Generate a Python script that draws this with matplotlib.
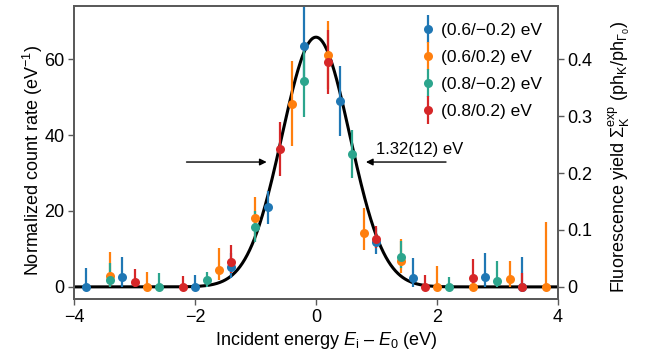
import numpy as np
import matplotlib
matplotlib.use("Agg")
import matplotlib.pyplot as plt
from matplotlib.legend_handler import HandlerErrorbar

plt.rcParams['font.family'] = ['Liberation Sans', 'DejaVu Sans']
plt.rcParams['mathtext.fontset'] = 'custom'
plt.rcParams['mathtext.rm'] = 'Liberation Sans'
plt.rcParams['mathtext.it'] = 'Liberation Sans:italic'
plt.rcParams['mathtext.bf'] = 'Liberation Sans:bold'
plt.rcParams['font.size'] = 13

# ---- data ----
labels = ["(0.6/\u22120.2) eV", "(0.6/0.2) eV", "(0.8/\u22120.2) eV", "(0.8/0.2) eV"]
colors = ["#1f77b4", "#ff7f0e", "#2ca58d", "#d62728"]

blue_x = [-3.8, -3.2, -2.0, -1.4, -0.8, -0.2, 0.4, 1.0, 1.6, 2.8, 3.4]
blue_y = [0, 2.5, 0, 5.3, 21.0, 63.5, 48.9, 11.9, 2.3, 2.7, 0]
blue_up = [4.9, 5.5, 3.2, 3.5, 4.3, 11.0, 9.3, 3.5, 5.2, 6.2, 8.0]
blue_lo = [0, 2.5, 0, 3.0, 4.5, 10.0, 9.2, 3.2, 2.3, 2.7, 0]

orange_x = [-3.4, -2.8, -1.6, -1.0, -0.4, 0.2, 0.8, 1.4, 2.0, 2.6, 3.2, 3.8]
orange_y = [2.9, 0, 4.4, 18.1, 48.2, 61.2, 14.3, 6.8, 0, 0, 2.0, 0]
orange_up = [6.3, 3.9, 5.8, 5.5, 11.3, 8.9, 6.4, 5.8, 5.6, 0, 4.8, 17.2]
orange_lo = [2.9, 0, 2.6, 5.7, 11.1, 9.0, 4.6, 3.2, 0, 0, 2.0, 0]

green_x = [-3.4, -2.6, -1.8, -1.0, -0.2, 0.6, 1.4, 2.2, 3.0]
green_y = [1.8, 0, 1.7, 15.9, 54.3, 35.0, 8.0, 0, 1.6]
green_up = [4.6, 3.6, 2.3, 4.0, 10.0, 6.3, 4.0, 2.7, 5.1]
green_lo = [1.8, 0, 1.7, 4.0, 9.5, 6.4, 3.0, 0, 1.6]

red_x = [-3.0, -2.2, -1.4, -0.6, 0.2, 1.0, 1.8, 2.6, 3.4]
red_y = [1.3, 0, 6.6, 36.4, 59.2, 12.6, 0, 2.3, 0]
red_up = [3.4, 3.0, 4.5, 7.1, 8.4, 3.5, 3.2, 5.0, 3.7]
red_lo = [1.3, 0, 2.9, 7.1, 8.5, 2.4, 0, 2.3, 0]

# Gaussian fit parameters
fit_amp = 65.8
fit_center = 0.0
fit_fwhm = 1.32

x_ticks = [-4, -2, 0, 2, 4]
y_ticks = [0, 20, 40, 60]
y2_ticks = [0, 0.1, 0.2, 0.3, 0.4]
y2_ticklabels = ["0", "0.1", "0.2", "0.3", "0.4"]
scale_ratio = 150.0

# ---- figure ----
fig = plt.figure(figsize=(6.51, 3.56), dpi=100)
ax = fig.add_axes([0.1137, 0.160, 0.857 - 0.1137, 0.983 - 0.160])

spine_col = "#5a5a5a"
series = [
    (blue_x, blue_y, blue_lo, blue_up),
    (orange_x, orange_y, orange_lo, orange_up),
    (green_x, green_y, green_lo, green_up),
    (red_x, red_y, red_lo, red_up),
]

xs = np.linspace(-4, 4, 800)
sigma = fit_fwhm / (2 * np.sqrt(2 * np.log(2)))
ax.plot(xs, fit_amp * np.exp(-(xs - fit_center) ** 2 / (2 * sigma ** 2)),
        color="black", lw=2.2, zorder=2)

handles = []
for (x, y, lo, up), c, lab in zip(series, colors, labels):
    h = ax.errorbar(x, y, yerr=[lo, up], fmt='o', color=c, ms=6.5,
                    elinewidth=1.6, capsize=0, label=lab, zorder=3,
                    markeredgewidth=0)
    handles.append(h)

ax.set_xlim(-4, 4)
ax.set_ylim(-3.2, 74)
ax.set_xticks(x_ticks)
ax.set_yticks(y_ticks)

half = fit_amp / 2
ax.annotate("", xy=(-0.815, half), xytext=(-2.14, half),
            arrowprops=dict(arrowstyle='-|>', color='black', lw=1.0,
                            mutation_scale=10, shrinkA=0, shrinkB=0))
ax.annotate("", xy=(0.826, half), xytext=(2.15, half),
            arrowprops=dict(arrowstyle='-|>', color='black', lw=1.0,
                            mutation_scale=10, shrinkA=0, shrinkB=0))
ax.text(1.72, 35.0, "1.32(12) eV", ha='center', va='baseline', fontsize=12)

ax.set_xlabel(r"Incident energy $E_\mathrm{i}$ – $E_0$ (eV)", labelpad=3)
ax.xaxis.label.set_x(0.521)
ax.set_ylabel(r"Normalized count rate (eV$^{\mathrm{-1}}$)", labelpad=-1)
ax.yaxis.label.set_y(0.474)

for s in ax.spines.values():
    s.set_color(spine_col)
    s.set_linewidth(1.3)
ax.tick_params(direction='out', length=4, width=1.0, color=spine_col,
               labelsize=13, pad=3)

ax2 = ax.twinx()
lo_, hi_ = ax.get_ylim()
ax2.set_ylim(lo_ / scale_ratio, hi_ / scale_ratio)
ax2.set_yticks(y2_ticks)
ax2.set_yticklabels(y2_ticklabels)
for s in ax2.spines.values():
    s.set_color(spine_col)
    s.set_linewidth(1.3)
ax2.tick_params(direction='out', length=4, width=1.0, color=spine_col,
                labelsize=13, pad=3)
ax2.set_ylabel(r"Fluorescence yield $\Sigma_\mathrm{K}^\mathrm{exp}$ (ph$_\mathrm{K}$/ph$_{\mathit{\Gamma}_0}$)",
               labelpad=10)
ax2.yaxis.label.set_y(0.485)

leg = ax.legend(handles=handles, labels=labels, loc='upper left',
                bbox_to_anchor=(0.721, 0.942), frameon=False,
                handlelength=0.6, handletextpad=0.45, labelspacing=0.68,
                borderaxespad=0, borderpad=0, fontsize=12.5,
                handler_map={type(handles[0]): HandlerErrorbar(yerr_size=0.8)})

fig.savefig("out.png", dpi=100)
